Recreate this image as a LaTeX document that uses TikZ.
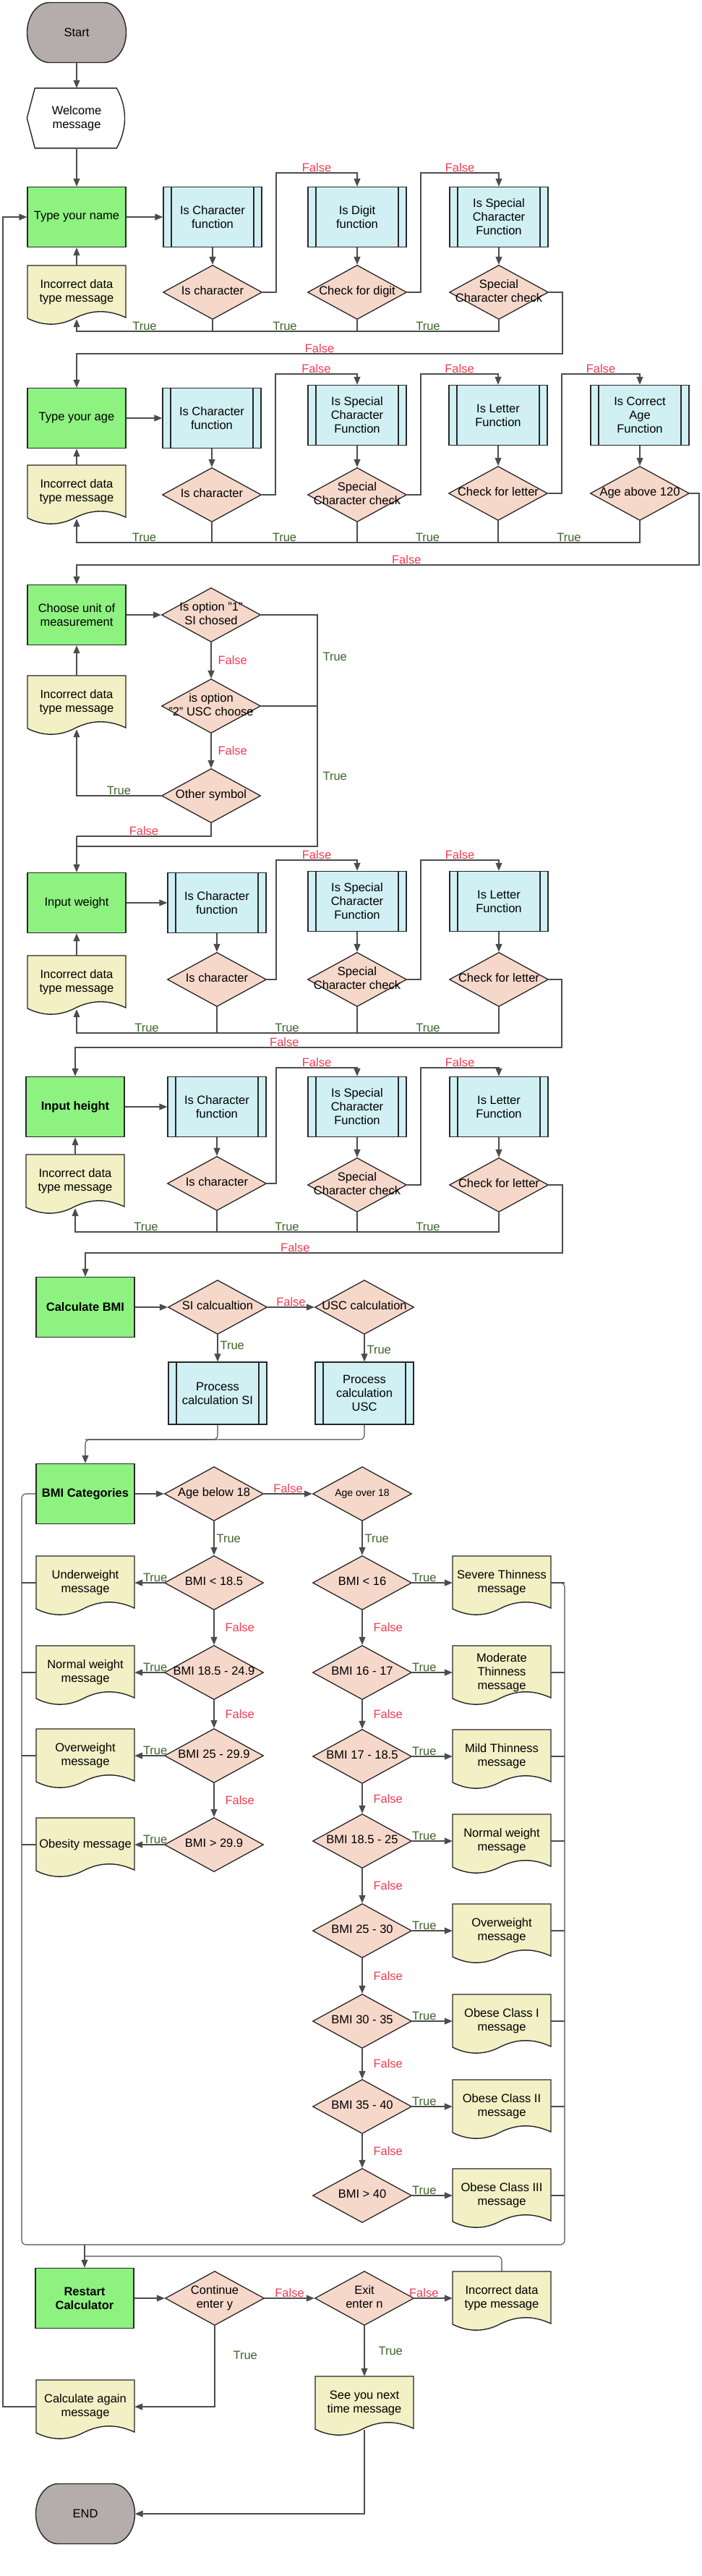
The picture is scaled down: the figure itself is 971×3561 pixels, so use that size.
\documentclass[tikz,border=0pt]{standalone}
\usepackage{fontspec}
\setmainfont{Liberation Sans}
\usetikzlibrary{shapes.geometric,arrows.meta}

\definecolor{procgreen}{RGB}{142,242,128}
\definecolor{subblue}{RGB}{208,240,244}
\definecolor{decpeach}{RGB}{246,216,202}
\definecolor{docyellow}{RGB}{242,240,196}
\definecolor{termgray}{RGB}{180,173,172}
\definecolor{falsered}{RGB}{240,60,80}
\definecolor{truegreen}{RGB}{60,100,40}

\newcommand{\basefont}{\fontsize{16.5}{19}\selectfont}
% text of a decision, kept out of the diamond's size
\newcommand{\dtxt}[1]{\makebox[0pt]{\begin{tabular}{@{}c@{}}#1\end{tabular}}}
% document shape: name, x, y, text
\newcommand{\docnode}[4]{%
  \draw[docline, shift={(#2-68,#3-37)}] (0,0) -- (136,0) -- (136,72)
    .. controls (112,61) and (90,61) .. (67,72)
    .. controls (45,84) and (22,84) .. (0,73) -- cycle;
  \node[doctext] (#1) at (#2,#3) {#4};
}
% terminator: name, x, y, text
\newcommand{\termnode}[4]{%
  \draw[docline, fill=termgray, shift={(#2-68.5,#3-41.5)}] (31,0) -- (106,0)
    .. controls (123.1,0) and (137,18.6) .. (137,41.5)
    .. controls (137,64.4) and (123.1,83) .. (106,83) -- (31,83)
    .. controls (13.9,83) and (0,64.4) .. (0,41.5)
    .. controls (0,18.6) and (13.9,0) .. (31,0) -- cycle;
  \node[doctext, minimum width=137, minimum height=83] (#1) at (#2,#3) {#4};
}

\begin{document}
\begin{tikzpicture}[x=1pt,y=-1pt,font=\basefont,
  flowbox/.style={draw=black!85, line width=1.4pt, minimum width=136, minimum height=83, inner sep=2pt, align=center},
  proc/.style={flowbox, rectangle, fill=procgreen},
  procb/.style={proc, font=\basefont\bfseries},
  sub/.style={flowbox, rectangle, fill=subblue, path picture={
    \draw[line width=1.2pt, draw=black!85] ([xshift=11pt]path picture bounding box.north west) -- ([xshift=11pt]path picture bounding box.south west);
    \draw[line width=1.2pt, draw=black!85] ([xshift=-11pt]path picture bounding box.north east) -- ([xshift=-11pt]path picture bounding box.south east);}},
  decision/.style={diamond, draw=black!85, line width=1.3pt, fill=decpeach, minimum width=137, minimum height=75, inner sep=0pt},
  doctext/.style={minimum width=136, minimum height=74, inner sep=0pt, align=center},
  docline/.style={draw=black!85, line width=1.4pt, fill=docyellow},
  conn/.style={draw=black!70, line width=1.1pt},
  arr/.style={conn, -{Triangle[length=11pt,width=9pt]}},
  yes/.style={text=truegreen, inner sep=1pt},
  no/.style={text=falsered, inner sep=1pt}]
\useasboundingbox (0,0) rectangle (971,3561);

% start
\termnode{start}{106}{45}{Start}
\node[flowbox, draw=none] (welcome) at (106,164) {Welcome\\message};
\draw[draw=black!85, line width=1.4pt, shift={(welcome.north west)}] (11,0) -- (124,0)
  .. controls (139,27) and (139,56) .. (124,83) -- (11,83) -- (0,41.5) -- cycle;
\draw[arr] (start) -- (welcome);

% name
\node[proc] (nameP) at (106,300) {Type your name};
\node[sub] (nA1) at (294,300) {Is Character\\function};
\node[sub] (nA2) at (494,300) {Is Digit\\function};
\node[sub] (nA3) at (690,300) {Is Special\\Character\\Function};
\node[decision] (dA1) at (294,404) {\dtxt{Is character}};
\node[decision] (dA2) at (494,404) {\dtxt{Check for digit}};
\node[decision] (dA3) at (690,404) {\dtxt{Special\\Character check}};
\docnode{nameE}{106}{404}{Incorrect data\\type message}
\draw[arr] (welcome.south) -- (nameP.north);
\draw[arr] (nameP) -- (nA1);
\foreach \a/\b in {nA1/dA1,nA2/dA2,nA3/dA3} \draw[arr] (\a) -- (\b);
\draw[arr] (nameE) -- (nameP);
\foreach \d in {dA1,dA2} \draw[conn] (\d.south) -- (\d.south |- 0,458);
\draw[arr] (dA3.south) |- node[yes,pos=0.75,above]{True} (dA2.south |- 0,458)
  -- node[yes,above]{True} (dA1.south |- 0,458)
  -- node[yes,above]{True} (nameE.south |- 0,458) -- (nameE.south);
\draw[arr] (dA1.east) -| (382,239) -- node[no,above]{False} (nA2.north |- 0,239) -- (nA2.north);
\draw[arr] (dA2.east) -| (582,239) -- node[no,above]{False} (nA3.north |- 0,239) -- (nA3.north);

% age
\node[proc] (ageP) at (106,578) {Type your age};
\node[sub] (nB1) at (293,578) {Is Character\\function};
\node[sub] (nB2) at (494,574) {Is Special\\Character\\Function};
\node[sub] (nB3) at (689,574) {Is Letter\\Function};
\node[sub] (nB4) at (885,574) {Is Correct\\Age\\Function};
\node[decision] (dB1) at (293,684) {\dtxt{Is character}};
\node[decision] (dB2) at (494,684) {\dtxt{Special\\Character check}};
\node[decision] (dB3) at (689,682) {\dtxt{Check for letter}};
\node[decision] (dB4) at (885,682) {\dtxt{Age above 120}};
\docnode{ageE}{106}{680}{Incorrect data\\type message}
\draw[arr] (dA3.east) -| (778,489) -- node[no,above]{False} (ageP.north |- 0,489) -- (ageP.north);
\draw[arr] (ageP) -- (nB1);
\foreach \a/\b in {nB1/dB1,nB2/dB2,nB3/dB3,nB4/dB4} \draw[arr] (\a) -- (\b);
\draw[arr] (ageE) -- (ageP);
\foreach \d in {dB1,dB2,dB3} \draw[conn] (\d.south) -- (\d.south |- 0,750);
\draw[arr] (dB4.south) |- node[yes,pos=0.75,above]{True} (dB3.south |- 0,750)
  -- node[yes,above]{True} (dB2.south |- 0,750)
  -- node[yes,above]{True} (dB1.south |- 0,750)
  -- node[yes,above]{True} (ageE.south |- 0,750) -- (ageE.south);
\draw[arr] (dB1.east) -| (381,517) -- node[no,above]{False} (nB2.north |- 0,517) -- (nB2.north);
\draw[arr] (dB2.east) -| (582,517) -- node[no,above]{False} (nB3.north |- 0,517) -- (nB3.north);
\draw[arr] (dB3.east) -| (777,517) -- node[no,above]{False} (nB4.north |- 0,517) -- (nB4.north);

% unit
\node[proc] (unitP) at (106,850) {Choose unit of\\measurement};
\node[decision] (dC1) at (292,850) {\dtxt{Is option "1"\\SI chosed}};
\node[decision] (dC2) at (292,976) {\dtxt{is option\\"2" USC choose}};
\node[decision] (dC3) at (292,1100) {\dtxt{Other symbol}};
\docnode{unitE}{106}{971}{Incorrect data\\type message}
\coordinate (jC) at (106,1156);
\draw[arr] (dB4.east) -| (967,781) -- node[no,above,pos=0.47]{False} (unitP.north |- 0,781) -- (unitP.north);
\draw[arr] (unitP) -- (dC1);
\draw[arr] (dC1) -- node[no,right=8pt]{False} (dC2);
\draw[arr] (dC2) -- node[no,right=8pt]{False} (dC3);
\draw[arr] (unitE) -- (unitP);
\draw[conn] (dC1.east) -| node[yes,pos=0.59,right=6pt]{True} (439,1170) -| (jC);
\draw[conn] (dC2.east) -| node[yes,pos=0.75,right=6pt]{True} (439,1170);
\draw[arr] (dC3.west) -| node[yes,pos=0.25,above]{True} (unitE.south);
\draw[conn] (dC3.south) |- node[no,pos=0.75,above]{False} (jC);

% weight
\node[proc] (weightP) at (106,1248) {Input weight};
\node[sub] (nD1) at (300,1248) {Is Character\\function};
\node[sub] (nD2) at (494,1246) {Is Special\\Character\\Function};
\node[sub] (nD3) at (690,1246) {Is Letter\\Function};
\node[decision] (dD1) at (300,1354) {\dtxt{Is character}};
\node[decision] (dD2) at (494,1354) {\dtxt{Special\\Character check}};
\node[decision] (dD3) at (690,1354) {\dtxt{Check for letter}};
\docnode{weightE}{106}{1358}{Incorrect data\\type message}
\draw[arr] (jC) -- (weightP.north);
\draw[arr] (weightP) -- (nD1);
\foreach \a/\b in {nD1/dD1,nD2/dD2,nD3/dD3} \draw[arr] (\a) -- (\b);
\draw[arr] (weightE) -- (weightP);
\foreach \d in {dD1,dD2} \draw[conn] (\d.south) -- (\d.south |- 0,1428);
\draw[arr] (dD3.south) |- node[yes,pos=0.75,above]{True} (dD2.south |- 0,1428)
  -- node[yes,above]{True} (dD1.south |- 0,1428)
  -- node[yes,above]{True} (weightE.south |- 0,1428) -- (weightE.south);
\draw[arr] (dD1.east) -| (382,1189) -- node[no,above]{False} (nD2.north |- 0,1189) -- (nD2.north);
\draw[arr] (dD2.east) -| (582,1189) -- node[no,above]{False} (nD3.north |- 0,1189) -- (nD3.north);

% height
\node[procb] (heightP) at (104,1530) {Input height};
\node[sub] (nE1) at (300,1530) {Is Character\\function};
\node[sub] (nE2) at (494,1530) {Is Special\\Character\\Function};
\node[sub] (nE3) at (690,1530) {Is Letter\\Function};
\node[decision] (dE1) at (300,1636) {\dtxt{Is character}};
\node[decision] (dE2) at (494,1638) {\dtxt{Special\\Character check}};
\node[decision] (dE3) at (690,1638) {\dtxt{Check for letter}};
\docnode{heightE}{104}{1633}{Incorrect data\\type message}
\draw[arr] (dD3.east) -| (777,1448) -- node[no,above,pos=0.57]{False} (heightP.north |- 0,1448) -- (heightP.north);
\draw[arr] (heightP) -- (nE1);
\foreach \a/\b in {nE1/dE1,nE2/dE2,nE3/dE3} \draw[arr] (\a) -- (\b);
\draw[arr] (heightE) -- (heightP);
\foreach \d in {dE1,dE2} \draw[conn] (\d.south) -- (\d.south |- 0,1703);
\draw[arr] (dE3.south) |- node[yes,pos=0.75,above]{True} (dE2.south |- 0,1703)
  -- node[yes,above]{True} (dE1.south |- 0,1703)
  -- node[yes,above]{True} (heightE.south |- 0,1703) -- (heightE.south);
\draw[arr] (dE1.east) -| (382,1476) -- node[no,above]{False} (nE2.north |- 0,1476) -- (nE2.north);
\draw[arr] (dE2.east) -| (582,1476) -- node[no,above]{False} (nE3.north |- 0,1476) -- (nE3.north);

% calculation
\node[procb] (calcP) at (118,1807) {Calculate BMI};
\node[decision] (dF1) at (301,1807) {\dtxt{SI calcualtion}};
\node[decision] (dF2) at (504,1807) {\dtxt{USC calculation}};
\node[sub, minimum height=86] (pSI) at (301,1926) {Process\\calculation SI};
\node[sub, minimum height=86] (pUSC) at (504,1926) {Process\\calculation\\USC};
\draw[arr] (dE3.east) -| (778,1732) -- node[no,above,pos=0.56]{False} (calcP.north |- 0,1732) -- (calcP.north);
\draw[arr] (calcP) -- (dF1);
\draw[arr] (dF1) -- node[no,above]{False} (dF2);
\draw[arr] (dF1) -- node[yes,right=2pt,pos=0.4]{True} (pSI);
\draw[arr] (dF2) -- node[yes,right=2pt,pos=0.55]{True} (pUSC);

% categories
\node[procb] (catP) at (118,2065) {BMI Categories};
\node[decision] (dG1) at (296,2065) {\dtxt{Age below 18}};
\node[decision, font=\fontsize{14}{17}\selectfont] (dG2) at (501,2065) {\dtxt{Age over 18}};
\draw[conn, rounded corners=6pt] (pSI.south) |- (catP.north |- 0,1990);
\draw[arr, rounded corners=6pt] (pUSC.south) |- (catP.north |- 0,1990) -- (catP.north);
\draw[arr] (catP) -- (dG1);
\draw[arr] (dG1) -- node[no,above]{False} (dG2);

\foreach \i/\y/\dlab/\dmsg in {1/2188/{BMI < 18.5}/{Underweight\\message},
    2/2312/{BMI 18.5 - 24.9}/{Normal weight\\message},
    3/2427/{BMI 25 - 29.9}/{Overweight\\message},
    4/2550/{BMI > 29.9}/{Obesity message}}{
  \docnode{lm\i}{118}{\y}{\dmsg}
  \node[decision] (l\i) at (296,\y) {\dtxt{\dlab}};
  \draw[arr] (l\i.west) -- node[yes,above,pos=0.3]{True} (lm\i.east);
  \draw[conn] (lm\i.west) -- (lm\i.west -| 30,0);
}
\foreach \i/\y/\dlab/\dmsg in {1/2188/{BMI < 16}/{Severe Thinness\\message},
    2/2312/{BMI 16 - 17}/{Moderate\\Thinness\\message},
    3/2428/{BMI 17 - 18.5}/{Mild Thinness\\message},
    4/2545/{BMI 18.5 - 25}/{Normal weight\\message},
    5/2669/{BMI 25 - 30}/{Overweight\\message},
    6/2794/{BMI 30 - 35}/{Obese Class I\\message},
    7/2912/{BMI 35 - 40}/{Obese Class II\\message},
    8/3035/{BMI > 40}/{Obese Class III\\message}}{
  \docnode{rm\i}{694}{\y}{\dmsg}
  \node[decision] (r\i) at (501,\y) {\dtxt{\dlab}};
  \draw[arr] (r\i.east) -- node[yes,above,pos=0.3]{True} (rm\i.west);
  \draw[conn] (rm\i.east) -- (rm\i.east -| 781,0);
}
\draw[arr] (dG1) -- node[yes,right=2pt]{True} (l1);
\draw[arr] (dG2) -- node[yes,right=2pt]{True} (r1);
\foreach \i/\j in {1/2,2/3,3/4} \draw[arr] (l\i) -- node[no,right=14pt]{False} (l\j);
\foreach \i/\j in {1/2,2/3,3/4,4/5,5/6,6/7,7/8} \draw[arr] (r\i) -- node[no,right=14pt]{False} (r\j);
\draw[conn, rounded corners=6pt] (catP.west) -| (30,3103) -| (781,2188) -- (rm1.east);

% restart
\node[procb] (restartP) at (117,3177) {Restart\\Calculator};
\node[decision] (dH1) at (297,3177) {\dtxt{Continue\\enter y}};
\node[decision] (dH2) at (504,3177) {\dtxt{Exit\\enter n}};
\docnode{restE}{694}{3177}{Incorrect data\\type message}
\docnode{byeE}{504}{3322}{See you next\\time message}
\docnode{againE}{118}{3327}{Calculate again\\message}
\termnode{endT}{118}{3475}{END}
\draw[arr] (restartP.north |- 0,3103) -- (restartP.north);
\draw[conn, rounded corners=6pt] (restE.north) |- (restartP.north |- 0,3119);
\draw[arr] (restartP) -- (dH1);
\draw[arr] (dH1) -- node[no,above]{False} (dH2);
\draw[arr] (dH2) -- node[no,above,pos=0.25]{False} (restE);
\draw[arr] (dH2) -- node[yes,right=18pt]{True} (byeE);
\draw[arr] (dH1.south) |- node[yes,right=24pt,pos=0.18]{True} (againE.east);
\draw[arr] (againE.west) -| (4,300) -- (nameP.west);
\draw[arr] (byeE.south) |- (endT.east);
\end{tikzpicture}
\end{document}
